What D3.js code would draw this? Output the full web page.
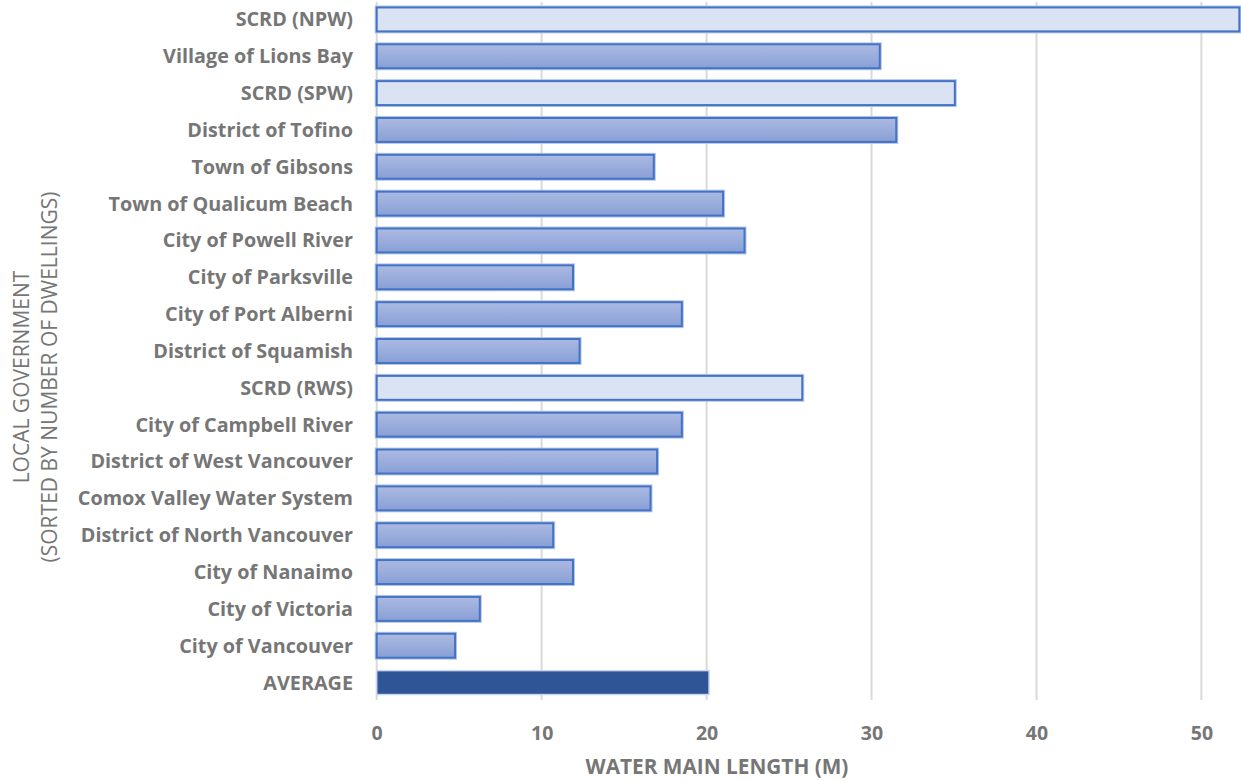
<!DOCTYPE html>
<html>
<head>
<meta charset="utf-8">
<script src="https://cdn.jsdelivr.net/npm/d3@7"></script>
<style>
  html, body { margin: 0; padding: 0; background: #fff; }
  svg { display: block; }
</style>
</head>
<body>
<svg id="chart" width="1241" height="781"></svg>
<script>
// Local governments, in the order they are listed (sorted by number of dwellings)
const categories = [
  "SCRD (NPW)", "Village of Lions Bay", "SCRD (SPW)", "District of Tofino",
  "Town of Gibsons", "Town of Qualicum Beach", "City of Powell River",
  "City of Parksville", "City of Port Alberni", "District of Squamish",
  "SCRD (RWS)", "City of Campbell River", "District of West Vancouver",
  "Comox Valley Water System", "District of North Vancouver", "City of Nanaimo",
  "City of Victoria", "City of Vancouver", "AVERAGE"
];
// Water main length per connection (m)
const values = [
  52.3, 30.5, 35.05, 31.5, 16.8, 21.0, 22.3, 11.9, 18.5, 12.3,
  25.8, 18.5, 17.0, 16.6, 10.7, 11.9, 6.25, 4.75, 20.15
];
// Bar style group: regional district systems, municipalities, overall average
const groups = [
  "regional", "municipal", "regional", "municipal", "municipal", "municipal", "municipal",
  "municipal", "municipal", "municipal", "regional", "municipal", "municipal",
  "municipal", "municipal", "municipal", "municipal", "municipal", "average"
];
const xTicks = [0, 10, 20, 30, 40, 50];
const xTitle = "WATER MAIN LENGTH (M)";
const yTitle = ["LOCAL GOVERNMENT", "(SORTED BY NUMBER OF DWELLINGS)"];

const data = categories.map((c, i) => ({ name: c, value: values[i], group: groups[i] }));

const svg = d3.select("#chart");
const fontFamily = "'Open Sans', Lato, sans-serif";
const textColor = "#767676";

const x = d3.scaleLinear().domain([0, 52.4]).range([376.7, 1241]);
const y = d3.scaleBand().domain(categories).range([1, 701])
  .paddingInner(0.35).paddingOuter(0.175);

// Gradient for municipal bars
const defs = svg.append("defs");
const grad = defs.append("linearGradient").attr("id", "barGrad")
  .attr("x1", 0).attr("y1", 0).attr("x2", 0).attr("y2", 1);
grad.append("stop").attr("offset", "0%").attr("stop-color", "#acbae2");
grad.append("stop").attr("offset", "100%").attr("stop-color", "#889fd6");

// Vertical gridlines
svg.append("g").selectAll("line").data(xTicks).join("line")
  .attr("x1", d => x(d)).attr("x2", d => x(d))
  .attr("y1", 2).attr("y2", 700)
  .attr("stroke", "#d9d9d9").attr("stroke-width", 2);

// Bars
const bars = svg.append("g");
const nonAvg = data.filter(d => d.group !== "average");
// soft halo around bar borders
bars.selectAll("rect.halo").data(nonAvg).join("rect")
  .attr("class", "halo")
  .attr("x", x(0)).attr("y", d => y(d.name))
  .attr("width", d => x(d.value) - x(0)).attr("height", y.bandwidth())
  .attr("fill", "none").attr("stroke", "#b4c7e7").attr("stroke-width", 4);
bars.selectAll("rect.bar").data(nonAvg).join("rect")
  .attr("class", "bar")
  .attr("x", x(0)).attr("y", d => y(d.name))
  .attr("width", d => x(d.value) - x(0)).attr("height", y.bandwidth())
  .attr("fill", d => d.group === "regional" ? "#dae3f3" : "url(#barGrad)")
  .attr("stroke", "#4472c4").attr("stroke-width", 2);
bars.selectAll("rect.avg").data(data.filter(d => d.group === "average")).join("rect")
  .attr("class", "avg")
  .attr("x", x(0)).attr("y", d => y(d.name))
  .attr("width", d => x(d.value) - x(0)).attr("height", y.bandwidth())
  .attr("fill", "#2f5597").attr("stroke", "#c9d6ee").attr("stroke-width", 1.5);

// Category labels
const yAxis = d3.axisLeft(y).tickSize(0).tickPadding(0);
const gy = svg.append("g").attr("transform", "translate(353,0)").call(yAxis);
gy.select(".domain").remove();
gy.selectAll("text")
  .attr("font-family", fontFamily).attr("font-weight", "bold")
  .attr("font-size", 19.8).attr("fill", textColor).attr("dy", "0.35em");

// X tick labels
const xAxis = d3.axisBottom(x).tickValues(xTicks).tickSize(0).tickPadding(0);
const gx = svg.append("g").attr("transform", "translate(0,733)").call(xAxis);
gx.select(".domain").remove();
gx.selectAll("text")
  .attr("font-family", fontFamily).attr("font-weight", "bold")
  .attr("font-size", 19.5).attr("fill", textColor).attr("dy", "0.35em");

// Axis titles
svg.append("text")
  .attr("x", 717).attr("y", 767).attr("dy", "0.35em")
  .attr("text-anchor", "middle")
  .attr("font-family", fontFamily).attr("font-weight", "bold")
  .attr("font-size", 20.8).attr("fill", textColor)
  .text(xTitle);

svg.append("g").attr("transform", "translate(22,377) rotate(-90)")
  .selectAll("text").data(yTitle).join("text")
  .attr("x", 0).attr("y", (d, i) => i * 28).attr("dy", "0.35em")
  .attr("text-anchor", "middle")
  .attr("font-family", fontFamily)
  .attr("font-size", 21).attr("fill", textColor)
  .text(d => d);
</script>
</body>
</html>
